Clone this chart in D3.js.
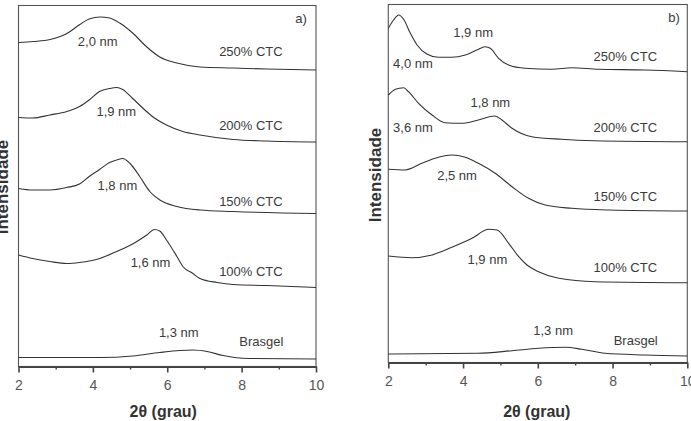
<!DOCTYPE html>
<html><head><meta charset="utf-8">
<script src="https://cdn.jsdelivr.net/npm/d3@7"></script>
<style>
html,body{margin:0;padding:0;background:#fff;}
svg{display:block;font-family:"Liberation Sans",Arial,sans-serif;}
</style></head>
<body><svg id="chart" width="691" height="421"></svg>
<script>
// ---- data: [2θ (grau), intensity (a.u.)] ----
const xTicks = [2, 4, 6, 8, 10];
const xMinorTicks = [3, 5, 7, 9];
const seriesNamesA = ["250% CTC", "200% CTC", "150% CTC", "100% CTC", "Brasgel"];
const a250 = [[2,324],[2.4,325],[2.85,327],[3.3,333],[3.65,342],[3.9,347.5],[4.2,349.5],[4.45,348.5],[4.72,343.5],[5.07,333.5],[5.45,319.5],[5.8,309.5],[6.26,303.5],[6.88,299.5],[7.77,298.5],[8.68,297.5],[10,296.5]];
const a200 = [[2,249],[2.38,248.5],[2.84,251.5],[3.3,255],[3.64,260],[3.9,266.5],[4.18,275],[4.45,278],[4.64,279],[4.8,277],[5.07,268],[5.34,258.5],[5.6,250],[5.98,241.5],[6.42,235],[6.88,231.5],[7.77,227],[8.68,225.5],[10,224.5]];
const a150 = [[2,178],[2.38,176.5],[2.84,176.5],[3.3,179],[3.64,182.5],[3.9,190],[4.18,197],[4.45,204],[4.64,206.5],[4.8,208],[5.0,203],[5.26,190],[5.53,175],[5.8,166.5],[6.26,160],[6.88,156.5],[7.77,155],[10,153]];
const a100 = [[2,111.5],[2.38,108],[2.84,105],[3.3,103],[3.64,104],[4.18,108],[4.64,115],[5.07,122.5],[5.45,131.5],[5.66,137],[5.8,135.5],[5.98,126.5],[6.26,110],[6.42,100],[6.69,93],[6.88,88],[7.34,84],[7.77,82],[8.68,81],[10,79]];
const aBras = [[2,9],[4.18,9],[5.07,10.5],[5.8,14],[6.34,16],[6.69,16.5],[7.07,15],[7.5,11],[8.2,8],[10,7.5]];

const b250 = [[2,334.2],[2.14,342.5],[2.28,347.5],[2.41,343.2],[2.59,329.2],[2.77,317.5],[3.03,308.5],[3.34,305.2],[3.7,305.2],[4.06,307.5],[4.37,312.5],[4.59,315.8],[4.73,314.2],[4.95,304.2],[5.22,297.5],[5.66,294.2],[6.38,293.2],[6.91,294.8],[7.62,293.2],[8.87,292.5],[10,290.8]];
const b200 = [[2,267.5],[2.19,273.2],[2.41,274.8],[2.54,270.8],[2.81,259.2],[3.17,247.5],[3.52,239.8],[3.97,239.2],[4.41,242.5],[4.85,246.5],[5.04,242.5],[5.31,234.2],[5.84,225.8],[6.64,223.2],[7.5,221.8],[10,220.8]];
const b150 = [[2,193.2],[2.45,192.5],[2.9,199.2],[3.34,205.2],[3.7,207.5],[4.06,205.2],[4.41,199.2],[4.86,189.2],[5.31,175.8],[5.75,164.2],[6.2,157.5],[6.91,154.2],[7.9,152.5],[10,151.5]];
const b100 = [[2,106.5],[2.63,104.8],[3.17,107.5],[3.7,115.2],[4.24,124.2],[4.69,133.2],[4.91,132.5],[5.22,119.2],[5.49,105.8],[5.71,97.5],[6.02,90.8],[6.56,84.2],[7.54,80.8],[10,79.8]];
const bBras = [[2,8.5],[4.4,9.2],[5.31,11.8],[6.02,14.2],[6.74,15.2],[7.18,13.2],[7.8,9.2],[8.87,7.5],[10,6.5]];

// annotation texts
const peakLabelsA = ["2,0 nm", "1,9 nm", "1,8 nm", "1,6 nm", "1,3 nm"];
const peakLabelsB = ["1,9 nm", "4,0 nm", "1,8 nm", "3,6 nm", "2,5 nm", "1,9 nm", "1,3 nm"];
const xTitle = "2θ (grau)";
const yTitle = "Intensidade";

// ---- layout ----
const svg = d3.select("#chart");
const ink = "#3a3a3a";

function panel(cfg) {
  const x = d3.scaleLinear().domain([2, 10]).range([cfg.left, cfg.right]);
  const y = d3.scaleLinear().domain([0, cfg.bottom - cfg.top]).range([cfg.bottom, cfg.top]);
  const g = svg.append("g");

  g.append("rect").attr("x", cfg.left).attr("y", cfg.top)
    .attr("width", cfg.right - cfg.left).attr("height", cfg.bottom - cfg.top)
    .attr("fill", "none").attr("stroke", "#555").attr("stroke-width", 1.1);

  const line = d3.line().x(d => x(d[0])).y(d => y(d[1])).curve(d3.curveMonotoneX);
  cfg.series.forEach(s => {
    g.append("path").attr("d", line(s)).attr("fill", "none")
      .attr("stroke", "#333").attr("stroke-width", 1.1);
  });

  // minor ticks
  g.append("g").attr("transform", `translate(0,${cfg.bottom})`)
    .call(d3.axisBottom(x).tickValues(xMinorTicks).tickSize(3).tickFormat(""))
    .call(a => a.select(".domain").remove())
    .call(a => a.selectAll("line").attr("stroke", "#444").attr("stroke-width", 1.4));
  // major ticks
  const ax = g.append("g").attr("transform", `translate(0,${cfg.bottom})`)
    .call(d3.axisBottom(x).tickValues(xTicks).tickSizeInner(6).tickSizeOuter(0).tickPadding(8).tickFormat(d3.format("d")));
  ax.select(".domain").attr("stroke", "#444").attr("stroke-width", 1.8);
  ax.selectAll("line").attr("stroke", "#444").attr("stroke-width", 1.6);
  ax.selectAll("text").attr("fill", "#555").attr("font-size", 14)
    .attr("font-family", "Liberation Sans, Arial, sans-serif");

  // x title
  g.append("text").attr("x", (cfg.left + cfg.right) / 2 + cfg.xTitleDx).attr("y", 417)
    .attr("text-anchor", "middle").attr("font-size", 16).attr("font-weight", "bold")
    .attr("fill", "#333").text(xTitle);
  // y title
  g.append("text").attr("transform", `translate(${cfg.yTitleX},${cfg.yTitleY}) rotate(-90)`)
    .attr("text-anchor", "middle").attr("font-size", 17).attr("font-weight", "bold")
    .attr("fill", "#333").text(yTitle);

  // annotations
  cfg.annotations.forEach(an => {
    g.append("text").attr("x", x(an.x)).attr("y", y(an.y))
      .attr("text-anchor", "middle").attr("font-size", 13).attr("fill", ink).text(an.t);
  });
  g.append("text").attr("x", cfg.tagX).attr("y", cfg.top + 17)
    .attr("text-anchor", "middle").attr("font-size", 13).attr("fill", ink).text(cfg.tag);
}

panel({
  left: 18.5, right: 316, top: 5.5, bottom: 366.5,
  series: [a250, a200, a150, a100, aBras],
  xTitleDx: -4, yTitleX: 8, yTitleY: 187,
  tag: "a)", tagX: 301,
  annotations: [
    {t: peakLabelsA[0], x: 4.13, y: 320.2},
    {t: seriesNamesA[0], x: 8.25, y: 310.2},
    {t: peakLabelsA[1], x: 4.63, y: 250.9},
    {t: seriesNamesA[1], x: 8.25, y: 236.2},
    {t: peakLabelsA[2], x: 4.66, y: 176.9},
    {t: seriesNamesA[2], x: 8.25, y: 160.9},
    {t: peakLabelsA[3], x: 5.55, y: 99.5},
    {t: seriesNamesA[3], x: 8.25, y: 90.2},
    {t: peakLabelsA[4], x: 6.31, y: 29.2},
    {t: seriesNamesA[4], x: 8.53, y: 20.2}
  ]
});

panel({
  left: 388.3, right: 687.3, top: 4.5, bottom: 362.5,
  series: [b250, b200, b150, b100, bBras],
  xTitleDx: -1, yTitleX: 381, yTitleY: 175,
  tag: "b)", tagX: 674,
  annotations: [
    {t: peakLabelsB[0], x: 4.27, y: 325.2},
    {t: peakLabelsB[1], x: 2.66, y: 294.5},
    {t: seriesNamesA[0], x: 8.34, y: 301.2},
    {t: peakLabelsB[2], x: 4.73, y: 255.2},
    {t: peakLabelsB[3], x: 2.66, y: 230.2},
    {t: seriesNamesA[1], x: 8.34, y: 230.2},
    {t: peakLabelsB[4], x: 3.84, y: 182.2},
    {t: seriesNamesA[2], x: 8.34, y: 161.9},
    {t: peakLabelsB[5], x: 4.65, y: 98.5},
    {t: seriesNamesA[3], x: 8.34, y: 90.5},
    {t: peakLabelsB[6], x: 6.41, y: 27.9},
    {t: seriesNamesA[4], x: 8.62, y: 17.9}
  ]
});
</script></body></html>
